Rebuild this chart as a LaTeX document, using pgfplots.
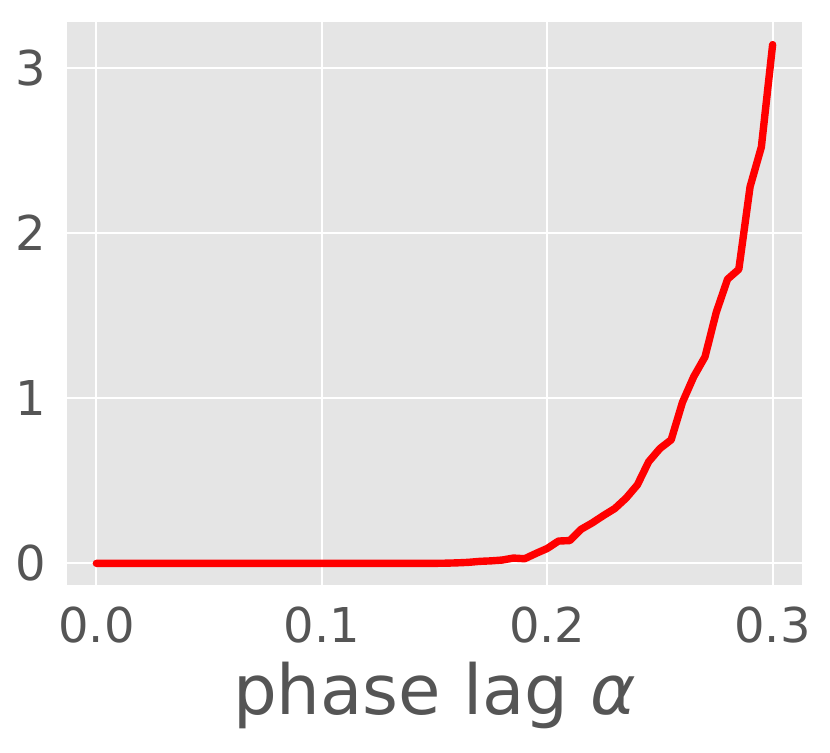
\documentclass[border=0pt]{standalone}
\usepackage{pgfplots}
\pgfplotsset{compat=1.18}
\usepackage{fontspec}
\setmainfont{DejaVu Sans}
\definecolor{bggray}{HTML}{E5E5E5}
\definecolor{labgray}{HTML}{555555}
\begin{document}
\begin{tikzpicture}
  % picture frame in the reference's proportions (1px = 0.5pt)
  \useasboundingbox (-33.65pt,-84pt) rectangle (381.35pt,292.5pt);
  \begin{axis}[
      scale only axis,
      width=367.2pt,
      height=281.5pt,
      xmin=-0.0129, xmax=0.3129,
      ymin=-0.131, ymax=3.277,
      axis background/.style={fill=bggray},
      axis line style={draw=none},
      major tick length=0pt,
      grid=major,
      grid style={white, line width=1pt},
      xtick={0,0.1,0.2,0.3},
      ytick={0,1,2,3},
      /pgf/number format/assume math mode=true,
      xticklabel style={/pgf/number format/fixed, /pgf/number format/fixed zerofill,
        /pgf/number format/precision=1, font=\fontsize{24}{28}\selectfont,
        text=labgray, inner sep=0pt, yshift=-10.5pt},
      yticklabel style={font=\fontsize{24}{28}\selectfont, text=labgray,
        inner sep=0pt, xshift=-10.6pt},
      xlabel={phase lag {\itshape α}},
      xlabel style={at={(rel axis cs:0.5,0)}, anchor=base, yshift=-65pt,
        inner sep=0pt, font=\fontsize{34.5}{40}\selectfont, text=labgray},
    ]
    \addplot[red, line width=3.7pt, line cap=round, line join=round] coordinates {
      (0.000,0) (0.005,0) (0.010,0) (0.015,0) (0.020,0) (0.025,0)
      (0.030,0) (0.035,0) (0.040,0) (0.045,0) (0.050,0) (0.055,0)
      (0.060,0) (0.065,0) (0.070,0) (0.075,0) (0.080,0) (0.085,0)
      (0.090,0) (0.095,0) (0.100,0) (0.105,0) (0.110,0) (0.115,0)
      (0.120,0) (0.125,0) (0.130,0) (0.135,0) (0.140,0) (0.145,0)
      (0.150,0) (0.155,0.001) (0.160,0.003) (0.165,0.006)
      (0.170,0.012) (0.175,0.015) (0.180,0.020) (0.185,0.032)
      (0.190,0.028) (0.195,0.060) (0.200,0.090) (0.205,0.135)
      (0.210,0.138) (0.215,0.206) (0.220,0.245) (0.225,0.290)
      (0.230,0.332) (0.235,0.395) (0.240,0.475) (0.245,0.615)
      (0.250,0.695) (0.255,0.748) (0.260,0.975) (0.265,1.130)
      (0.270,1.250) (0.275,1.520) (0.280,1.720) (0.285,1.780)
      (0.290,2.280) (0.295,2.520) (0.300,3.140)
    };
  \end{axis}
\end{tikzpicture}
\end{document}
